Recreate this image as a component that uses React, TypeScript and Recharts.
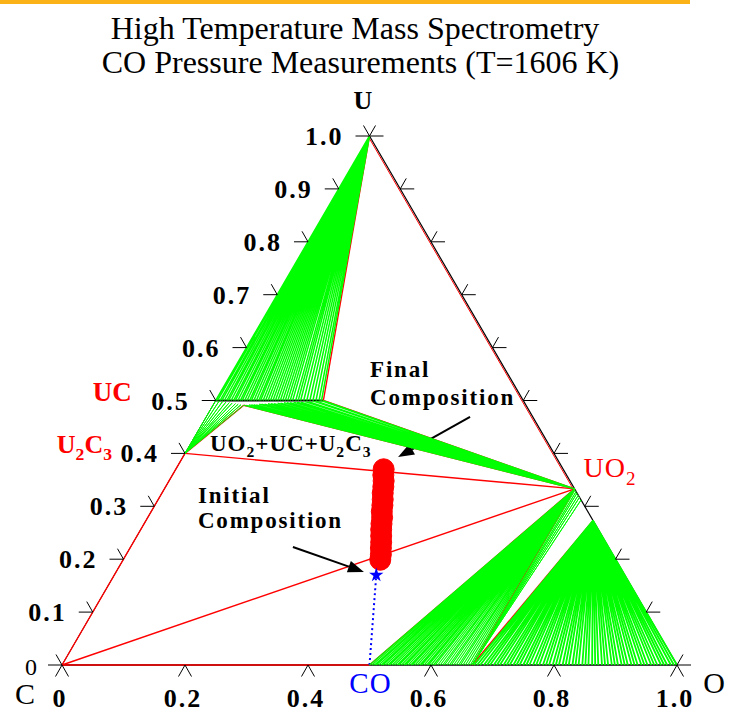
import React from "react";
import { ReferenceDot, ReferenceLine, Scatter, ScatterChart, XAxis, YAxis } from "recharts";

type Comp = [number, number]; // [U fraction, O fraction]; C is the rest

const W = 729;
const H = 713;
const MARGIN = { top: 136, right: 52, bottom: 48, left: 62 };
const SERIF = "'Liberation Serif', 'Times New Roman', serif";
const GREEN = "#00ff00";
const RED = "#ff0000";
const BLUE = "#0000ff";

// phase compositions
const U_PT: Comp = [1, 0];
const C_PT: Comp = [0, 0];
const O_PT: Comp = [0, 1];
const UC_PT: Comp = [0.5, 0];
const U2C3_PT: Comp = [0.4, 0];
const UO2_PT: Comp = [0.333, 0.667];
const U3O8_PT: Comp = [0.273, 0.727];
const CO_PT: Comp = [0, 0.5];
const CO2_PT: Comp = [0, 0.667];
const UCO_LIMIT: Comp = [0.5, 0.175];
const UCO_CORNER: Comp = [0.491, 0.05];

// tie-line ends: U + UC(O) solution (O fraction along U = 0.5)
const TIE_U_UCO = [
  0.0, 0.003, 0.007, 0.01, 0.014, 0.018, 0.021, 0.025, 0.029, 0.032, 0.036, 0.04, 0.043, 0.047, 0.051,
  0.055, 0.058, 0.062, 0.066, 0.07, 0.073, 0.077, 0.081, 0.085, 0.089, 0.093, 0.097, 0.101, 0.105, 0.109,
  0.113, 0.117, 0.121, 0.125, 0.13, 0.134, 0.138, 0.143, 0.148, 0.153, 0.158, 0.163, 0.168, 0.172,
];
// U2C3 + UC(O)
const TIE_U2C3_UC: Comp[] = [
  [0.5, 0.0], [0.499, 0.006], [0.498, 0.012], [0.497, 0.018], [0.496, 0.024],
  [0.495, 0.029], [0.494, 0.035], [0.493, 0.04], [0.492, 0.045], [0.491, 0.05],
];
// UO2 + UC(O)
const TIE_UO2_UCO: Comp[] = [
  [0.491, 0.05], [0.491, 0.054], [0.492, 0.058], [0.492, 0.062], [0.492, 0.066], [0.492, 0.07],
  [0.493, 0.074], [0.493, 0.078], [0.493, 0.083], [0.494, 0.088], [0.494, 0.093], [0.494, 0.098],
  [0.495, 0.103], [0.495, 0.108], [0.496, 0.113], [0.496, 0.118], [0.496, 0.123], [0.497, 0.128],
  [0.497, 0.134], [0.497, 0.14], [0.498, 0.146], [0.498, 0.152], [0.499, 0.158], [0.499, 0.164],
  [0.5, 0.17], [0.5, 0.175],
];
// UO2 + gas (O fraction on the C–O edge, CO to CO2)
const TIE_UO2_GAS = [
  0.5, 0.504, 0.508, 0.511, 0.515, 0.519, 0.522, 0.526, 0.53, 0.533, 0.537, 0.541, 0.545, 0.548, 0.552,
  0.556, 0.559, 0.563, 0.567, 0.57, 0.574, 0.578, 0.582, 0.585, 0.589, 0.593, 0.596, 0.6, 0.604, 0.607,
  0.611, 0.615, 0.619, 0.622, 0.626, 0.63, 0.633, 0.637, 0.641, 0.645, 0.648, 0.652, 0.656, 0.66, 0.664,
];
// UO2+x (U fraction on the U–O edge) + CO2
const TIE_UO2X_CO2 = [0.331, 0.328, 0.325, 0.321, 0.317, 0.312];
// U3O8 + gas (CO2 to O2)
const TIE_U3O8_GAS = [
  0.67, 0.675, 0.68, 0.686, 0.691, 0.696, 0.702, 0.707, 0.712, 0.718, 0.723, 0.728, 0.734, 0.739, 0.744,
  0.75, 0.755, 0.76, 0.766, 0.771, 0.776, 0.782, 0.787, 0.792, 0.798, 0.803, 0.808, 0.814, 0.819, 0.824,
  0.83, 0.835, 0.84, 0.846, 0.851, 0.856, 0.862, 0.867, 0.872, 0.878, 0.883, 0.888, 0.894, 0.899, 0.904,
  0.91, 0.915, 0.92, 0.926, 0.931, 0.936, 0.942, 0.947, 0.952, 0.958, 0.963, 0.968, 0.974, 0.979, 0.984,
  0.99, 0.995, 1.0,
];

// measured composition path during CO loss
const PATH_U = [0.199, 0.209, 0.221, 0.232, 0.244, 0.256, 0.267, 0.279, 0.29, 0.302, 0.313, 0.325, 0.337, 0.348, 0.359, 0.37];
const PATH_O = [0.418, 0.414, 0.408, 0.403, 0.397, 0.391, 0.386, 0.381, 0.375, 0.37, 0.365, 0.359, 0.354, 0.349, 0.343, 0.338];
const INITIAL: Comp = [0.17, 0.426];

const EDGE_TICKS = [0, 0.1, 0.2, 0.3, 0.4, 0.5, 0.6, 0.7, 0.8, 0.9, 1.0];
const EDGE_TICK_LABELS = ["0", "0.1", "0.2", "0.3", "0.4", "0.5", "0.6", "0.7", "0.8", "0.9", "1.0"];
const BASE_TICKS = [0, 0.2, 0.4, 0.6, 0.8, 1.0];
const BASE_TICK_LABELS = ["0", "0.2", "0.4", "0.6", "0.8", "1.0"];

const RED_LINES: [Comp, Comp][] = [
  [U_PT, UCO_LIMIT],
  [UCO_LIMIT, UO2_PT],
  [UCO_CORNER, UO2_PT],
  [U2C3_PT, UCO_CORNER],
  [U2C3_PT, UO2_PT],
  [C_PT, UO2_PT],
  [C_PT, U2C3_PT],
  [C_PT, CO_PT],
  [UO2_PT, CO_PT],
  [UO2_PT, CO2_PT],
  [U3O8_PT, CO2_PT],
];

// equilateral triangle: C at origin, O at (1,0), U on top
const toXY = ([u, o]: Comp) => ({ x: o + u / 2, y: u });
const fan = (apex: Comp, ends: Comp[]) => ends.flatMap((e) => [toXY(apex), toXY(e)]);

const Nothing = () => <g />;

const LeftTick = ({ cx, cy }: any) => (
  <g stroke="#000" strokeWidth={1}>
    <line x1={cx - 14} y1={cy} x2={cx} y2={cy} />
    <line x1={cx - 6} y1={cy - 10.5} x2={cx} y2={cy} />
  </g>
);
const RightTick = ({ cx, cy }: any) => (
  <g stroke="#000" strokeWidth={1}>
    <line x1={cx} y1={cy} x2={cx + 14} y2={cy} />
    <line x1={cx + 6} y1={cy - 10.5} x2={cx} y2={cy} />
  </g>
);
const BaseTick = ({ cx, cy }: any) => (
  <g stroke="#000" strokeWidth={1}>
    <line x1={cx - 6.5} y1={cy + 11.5} x2={cx} y2={cy} />
    <line x1={cx + 6.5} y1={cy + 11.5} x2={cx} y2={cy} />
  </g>
);

const Arrow = ({ x1, y1, x2, y2 }: any) => {
  const a = Math.atan2(y2 - y1, x2 - x1);
  const len = 16;
  const half = 6;
  const bx = x2 - len * Math.cos(a);
  const by = y2 - len * Math.sin(a);
  const pts = [
    [x2, y2],
    [bx - half * Math.sin(a), by + half * Math.cos(a)],
    [bx + half * Math.sin(a), by - half * Math.cos(a)],
  ];
  return (
    <g>
      <line x1={x1} y1={y1} x2={bx} y2={by} stroke="#000" strokeWidth={2} />
      <polygon points={pts.map((p) => p.join(",")).join(" ")} fill="#000" />
    </g>
  );
};

const InsetLine = ({ x1, y1, x2, y2 }: any) => (
  <line x1={x1 - 1.5} y1={y1} x2={x2 - 1.5} y2={y2} stroke={RED} strokeWidth={1} />
);

type TextSpec = {
  at: Comp;
  dx: number;
  dy: number;
  body: React.ReactNode;
  size: number;
  bold?: boolean;
  color?: string;
  anchor?: "start" | "middle" | "end";
  spacing?: number;
};

const textShape = (t: TextSpec) => (p: any) => (
  <text
    x={p.cx + t.dx}
    y={p.cy + t.dy}
    fontFamily={SERIF}
    fontSize={t.size}
    fontWeight={t.bold ? 700 : 400}
    fill={t.color ?? "#000"}
    textAnchor={t.anchor ?? "start"}
    letterSpacing={t.spacing ?? 0}
  >
    {t.body}
  </text>
);

// chemical formula pieces: [text, isSubscript]
const formula = (parts: [string, boolean][], size: number) => {
  const shift = Math.round(size * 0.28);
  let low = false;
  return parts.map(([s, isSub], i) => {
    const dy = isSub === low ? 0 : isSub ? shift : -shift;
    low = isSub;
    return (
      <tspan key={i} dy={dy} fontSize={isSub ? size * 0.68 : size}>
        {s}
      </tspan>
    );
  });
};

const FINAL_TAIL: Comp = [0.469, 0.429];
const FINAL_TIP: Comp = [0.393, 0.35];
const INITIAL_TAIL: Comp = [0.223, 0.264];
const INITIAL_TIP: Comp = [0.176, 0.403];

export default function App() {
  const texts: TextSpec[] = [
    { at: U_PT, dx: -6.5, dy: -27, body: "U", size: 26, bold: true, anchor: "middle" },
    { at: C_PT, dx: -37, dy: 39, body: "C", size: 30, anchor: "middle" },
    { at: O_PT, dx: 37, dy: 28, body: "O", size: 30, anchor: "middle" },
    { at: UC_PT, dx: -84, dy: 0, body: "UC", size: 27, bold: true, color: RED, anchor: "end" },
    {
      at: U2C3_PT,
      dx: -73,
      dy: 0,
      body: formula([["U", false], ["2", true], ["C", false], ["3", true]], 26),
      size: 26,
      bold: true,
      color: RED,
      anchor: "end",
    },
    { at: UO2_PT, dx: 9, dy: -12, body: formula([["UO", false], ["2", true]], 28), size: 28, color: RED, spacing: 1 },
    { at: CO_PT, dx: 1, dy: 28, body: "CO", size: 29, color: BLUE, anchor: "middle", spacing: 1 },
    {
      at: U2C3_PT,
      dx: 25,
      dy: -2,
      body: formula(
        [["UO", false], ["2", true], ["+UC+U", false], ["2", true], ["C", false], ["3", true]],
        23
      ),
      size: 23,
      bold: true,
      spacing: 1,
    },
    { at: FINAL_TAIL, dx: -100, dy: -40, body: "Final", size: 23, bold: true, spacing: 1.8 },
    { at: FINAL_TAIL, dx: -100, dy: -12, body: "Composition", size: 23, bold: true, spacing: 1.8 },
    { at: INITIAL_TAIL, dx: -95, dy: -44, body: "Initial", size: 23, bold: true, spacing: 1.8 },
    { at: INITIAL_TAIL, dx: -95, dy: -19, body: "Composition", size: 23, bold: true, spacing: 1.8 },
  ];

  EDGE_TICKS.forEach((u, i) => {
    if (u === 0) {
      texts.push({ at: [0, 0], dx: -25, dy: 10, body: "0", size: 24, anchor: "end" });
    } else {
      texts.push({ at: [u, 0], dx: -26, dy: 9, body: EDGE_TICK_LABELS[i], size: 26, bold: true, anchor: "end", spacing: 2 });
    }
  });
  BASE_TICKS.forEach((o, i) => {
    texts.push({ at: [0, o], dx: -2, dy: 42, body: BASE_TICK_LABELS[i], size: 26, bold: true, anchor: "middle", spacing: 2 });
  });

  const pathPoints = PATH_U.map((u, i) => toXY([u, PATH_O[i]]));

  return (
    <div style={{ position: "absolute", left: 0, top: 0, width: W, height: H, background: "#fff" }}>
      <div style={{ position: "absolute", left: 0, top: 0, width: 690, height: 4, background: "#fbb217" }} />
      <div
        style={{
          position: "absolute",
          left: 0,
          top: 12,
          width: 710,
          textAlign: "center",
          fontFamily: SERIF,
          fontSize: 32,
          lineHeight: "32px",
        }}
      >
        High Temperature Mass Spectrometry
      </div>
      <div
        style={{
          position: "absolute",
          left: 0,
          top: 46,
          width: 721,
          textAlign: "center",
          fontFamily: SERIF,
          fontSize: 32,
          lineHeight: "32px",
        }}
      >
        CO Pressure Measurements (T=1606 K)
      </div>
      <ScatterChart width={W} height={H} margin={MARGIN} style={{ position: "absolute", left: 0, top: 0 }}>
        <XAxis type="number" dataKey="x" domain={[0, 1]} hide />
        <YAxis type="number" dataKey="y" domain={[0, 1]} hide />

        {/* tie-line fans */}
        <Scatter
          data={fan(U_PT, TIE_U_UCO.map((o) => [0.5, o] as Comp))}
          line={{ stroke: GREEN, strokeWidth: 1.5 }}
          shape={Nothing}
          isAnimationActive={false}
        />
        <Scatter data={fan(U2C3_PT, TIE_U2C3_UC)} line={{ stroke: GREEN, strokeWidth: 1 }} shape={Nothing} isAnimationActive={false} />
        <Scatter data={fan(UO2_PT, TIE_UO2_UCO)} line={{ stroke: GREEN, strokeWidth: 1.2 }} shape={Nothing} isAnimationActive={false} />
        <Scatter
          data={fan(UO2_PT, TIE_UO2_GAS.map((o) => [0, o] as Comp))}
          line={{ stroke: GREEN, strokeWidth: 1.2 }}
          shape={Nothing}
          isAnimationActive={false}
        />
        <Scatter
          data={TIE_UO2X_CO2.flatMap((u) => [toXY([u, 1 - u]), toXY(CO2_PT)])}
          line={{ stroke: GREEN, strokeWidth: 1 }}
          shape={Nothing}
          isAnimationActive={false}
        />
        <Scatter
          data={fan(U3O8_PT, TIE_U3O8_GAS.map((o) => [0, o] as Comp))}
          line={{ stroke: GREEN, strokeWidth: 1.8 }}
          shape={Nothing}
          isAnimationActive={false}
        />

        {/* measured path */}
        <Scatter
          data={pathPoints}
          shape={(p: any) => <circle cx={p.cx} cy={p.cy} r={10.5} fill={RED} stroke={RED} />}
          isAnimationActive={false}
        />
        <Scatter data={[toXY(INITIAL)]} shape="star" fill={BLUE} isAnimationActive={false} />

        {/* triangle edges */}
        <ReferenceLine segment={[toXY(C_PT), toXY(UC_PT)]} stroke="#000" strokeWidth={1} ifOverflow="visible" />
        <ReferenceLine segment={[toXY(U_PT), toXY(O_PT)]} stroke="#000" strokeWidth={1.2} ifOverflow="visible" />
        <ReferenceLine segment={[toXY(C_PT), toXY(O_PT)]} stroke="#000" strokeWidth={1.5} ifOverflow="visible" />
        <ReferenceLine segment={[toXY(U_PT), toXY(UO2_PT)]} shape={InsetLine} ifOverflow="visible" />
        <ReferenceLine segment={[toXY(UC_PT), toXY(UCO_LIMIT)]} stroke="#000" strokeWidth={2} ifOverflow="visible" />

        {/* phase boundaries */}
        {RED_LINES.map(([a, b], i) => (
          <ReferenceLine key={`r${i}`} segment={[toXY(a), toXY(b)]} stroke={RED} strokeWidth={1.4} ifOverflow="visible" />
        ))}

        <ReferenceLine
          segment={[toXY(CO_PT), toXY(INITIAL)]}
          stroke={BLUE}
          strokeWidth={2}
          strokeDasharray="2 3"
          ifOverflow="visible"
        />
        <ReferenceLine segment={[toXY(FINAL_TAIL), toXY(FINAL_TIP)]} shape={Arrow} ifOverflow="visible" />
        <ReferenceLine segment={[toXY(INITIAL_TAIL), toXY(INITIAL_TIP)]} shape={Arrow} ifOverflow="visible" />

        {/* ticks */}
        {EDGE_TICKS.map((u) => (
          <ReferenceDot key={`l${u}`} {...toXY([u, 0])} r={1} shape={LeftTick} ifOverflow="visible" />
        ))}
        {EDGE_TICKS.map((u) => (
          <ReferenceDot key={`rt${u}`} {...toXY([u, 1 - u])} r={1} shape={RightTick} ifOverflow="visible" />
        ))}
        {BASE_TICKS.map((o) => (
          <ReferenceDot key={`b${o}`} {...toXY([0, o])} r={1} shape={BaseTick} ifOverflow="visible" />
        ))}

        {texts.map((t, i) => (
          <ReferenceDot key={`t${i}`} {...toXY(t.at)} r={1} shape={textShape(t)} ifOverflow="visible" />
        ))}
      </ScatterChart>
    </div>
  );
}
